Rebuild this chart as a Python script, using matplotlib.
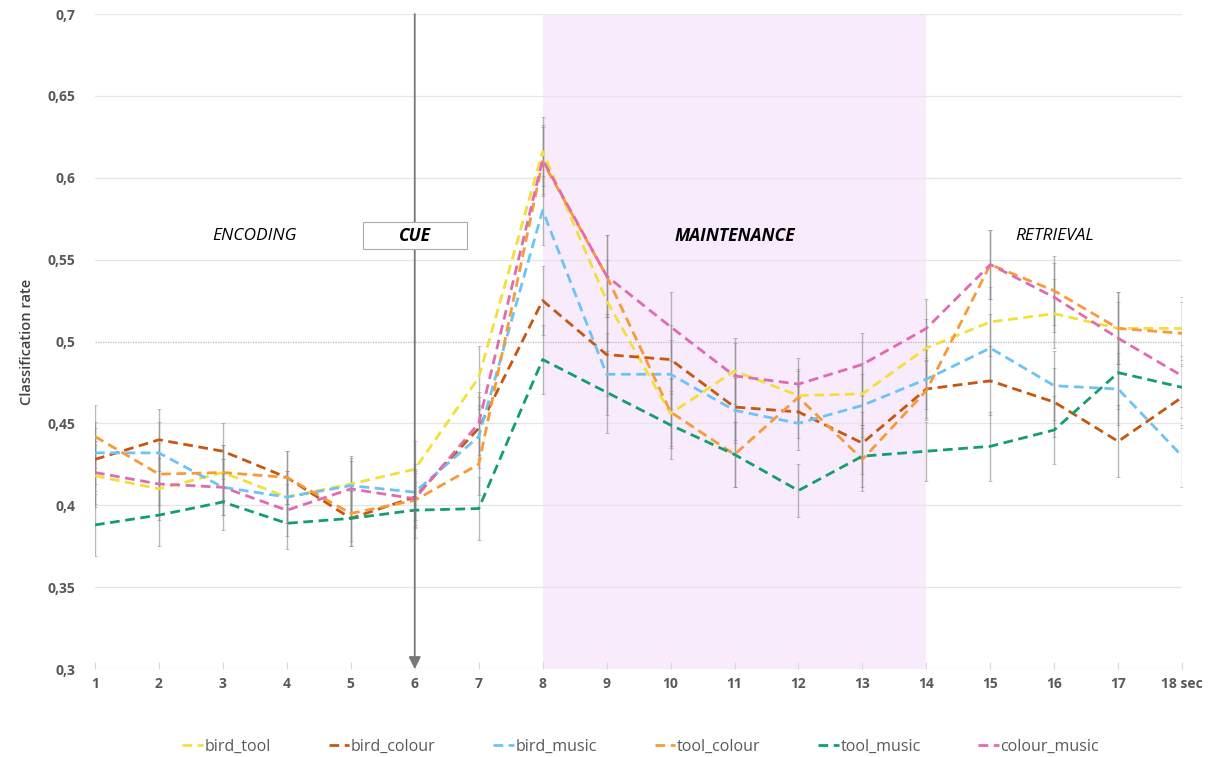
import numpy as np
import matplotlib.pyplot as plt
from matplotlib.patches import Rectangle

# time points (seconds)
t = list(range(1, 19))
xlabels = [str(i) for i in range(1, 18)] + ["18 sec"]

bird_tool = [0.418, 0.410, 0.420, 0.405, 0.413, 0.422, 0.478, 0.616, 0.525, 0.456,
             0.482, 0.467, 0.468, 0.496, 0.512, 0.517, 0.508, 0.508]
bird_colour = [0.428, 0.440, 0.433, 0.417, 0.392, 0.405, 0.447, 0.525, 0.492, 0.489,
               0.460, 0.457, 0.438, 0.471, 0.476, 0.463, 0.439, 0.466]
bird_music = [0.432, 0.432, 0.411, 0.405, 0.412, 0.408, 0.442, 0.580, 0.480, 0.480,
              0.458, 0.450, 0.461, 0.477, 0.496, 0.473, 0.471, 0.430]
tool_colour = [0.442, 0.419, 0.420, 0.417, 0.395, 0.403, 0.425, 0.610, 0.540, 0.457,
               0.431, 0.466, 0.428, 0.470, 0.547, 0.531, 0.508, 0.505]
tool_music = [0.388, 0.394, 0.402, 0.389, 0.392, 0.397, 0.398, 0.489, 0.469, 0.449,
              0.431, 0.409, 0.430, 0.433, 0.436, 0.446, 0.481, 0.472]
colour_music = [0.420, 0.413, 0.411, 0.397, 0.410, 0.404, 0.450, 0.611, 0.540, 0.509,
                0.479, 0.474, 0.486, 0.508, 0.547, 0.527, 0.502, 0.479]

# standard error per time point
sem = [0.019, 0.019, 0.017, 0.016, 0.017, 0.017, 0.019, 0.021, 0.025, 0.021,
       0.020, 0.016, 0.019, 0.018, 0.021, 0.021, 0.022, 0.019]

series = [
    ("bird_tool", bird_tool, "#F2E03A"),
    ("bird_colour", bird_colour, "#C8560E"),
    ("bird_music", bird_music, "#6CC4F5"),
    ("tool_colour", tool_colour, "#F79A3A"),
    ("tool_music", tool_music, "#139E6E"),
    ("colour_music", colour_music, "#E06BB0"),
]

plt.rcParams['font.family'] = ['Open Sans', 'DejaVu Sans']

fig = plt.figure(figsize=(12.1, 7.57), dpi=100)
ax = fig.add_axes([0.0785, 0.1162, 0.8985, 0.8653])

# maintenance period shading
ax.axvspan(8, 14, color="#F8EBFC", zorder=0, lw=0)

# grid
for yv in np.arange(0.35, 0.701, 0.05):
    if abs(yv - 0.5) < 1e-6:
        ax.axhline(yv, color="#BBBBBB", lw=0.9, ls=(0, (1, 1)), zorder=1)
    else:
        ax.axhline(yv, color="#E6E6E6", lw=0.9, zorder=1)
ax.axhline(0.3, color="#E6E6E6", lw=0.9, zorder=1)

# error bars
for name, vals, col in series:
    ax.errorbar(t, vals, yerr=sem, fmt="none", ecolor="#8A8A8A", elinewidth=1.0,
                capsize=1.5, capthick=0.6, alpha=0.6, zorder=2)

# lines
for name, vals, col in series:
    ax.plot(t, vals, color=col, lw=2, ls=(0, (3.5, 2)), label=name, zorder=3)

# cue arrow
ax.annotate("", xy=(6, 0.3), xytext=(6, 0.7),
            arrowprops=dict(arrowstyle="-|>", color="#777777", lw=1.3,
                            mutation_scale=18, shrinkA=0, shrinkB=0), zorder=4)

# period labels
ax.text(3.5, 0.5645, "ENCODING", style="italic", fontsize=12.5, ha="center", va="center")
ax.add_patch(Rectangle((5.19, 0.5565), 1.63, 0.0165, fc="white", ec="#AAAAAA",
                       lw=0.8, zorder=5))
ax.text(6, 0.5645, "CUE", style="italic", fontweight="bold", fontsize=12.5,
        ha="center", va="center", zorder=6)
ax.text(11, 0.5645, "MAINTENANCE", style="italic", fontweight="bold", fontsize=12.5,
        ha="center", va="center")
ax.text(16, 0.5645, "RETRIEVAL", style="italic", fontsize=12.5, ha="center", va="center")

ax.set_xlim(1, 18)
ax.set_ylim(0.3, 0.7)
ax.set_xticks(t)
ax.set_xticklabels(xlabels, fontsize=10, fontweight="bold", color="#595959")
yt = np.arange(0.3, 0.701, 0.05)
ax.set_yticks(yt)
ax.set_yticklabels([("%g" % round(v, 2)).replace(".", ",") for v in yt],
                   fontsize=10, fontweight="bold", color="#595959")
ax.tick_params(axis="y", length=0, pad=14)
ax.tick_params(axis="x", length=5, color="#D9D9D9", pad=6, direction="in")
for s in ax.spines.values():
    s.set_visible(False)

ax.set_ylabel("Classification rate", fontsize=10.5, fontweight="semibold", color="#404040",
              labelpad=10)

ax.legend(loc="upper center", bbox_to_anchor=(0.502, -0.085), ncol=6, frameon=False,
          fontsize=11.5, handlelength=1.3, handletextpad=0.1, columnspacing=3.6,
          labelcolor="#595959")

fig.savefig("out.png", dpi=100)
